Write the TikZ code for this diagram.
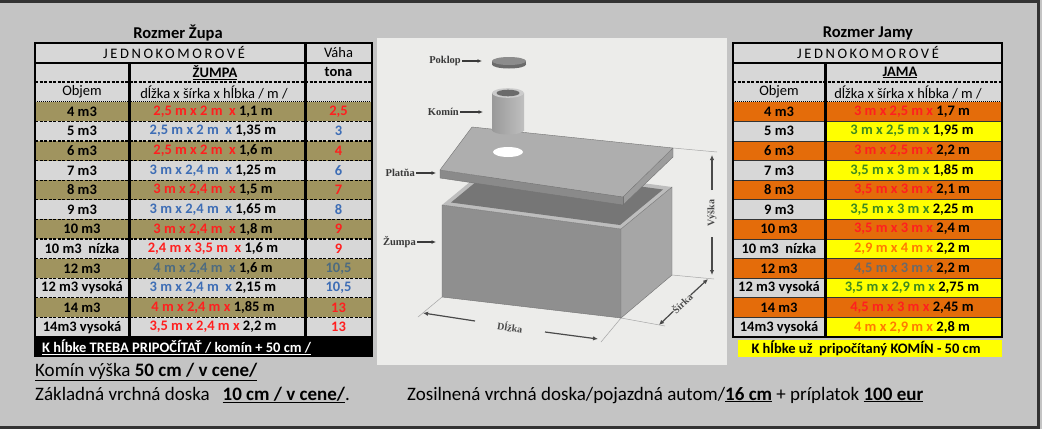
\documentclass[tikz,border=0pt]{standalone}
\usepackage{fontspec}
\setmainfont{Carlito}
\newfontfamily\imgfont{Liberation Serif}
\usetikzlibrary{arrows.meta}
\definecolor{bgpage}{HTML}{C4C4C4}
\definecolor{lightcell}{HTML}{D7D7D7}
\definecolor{gold}{HTML}{A0945F}
\definecolor{orng}{HTML}{E46C0A}
\definecolor{yel}{HTML}{FFFF00}
\definecolor{tred}{HTML}{FF1F1F}
\definecolor{tblue}{HTML}{3D6DB5}
\definecolor{tgblue}{HTML}{4D6B80}
\definecolor{tgreen}{HTML}{3E8A1F}
\definecolor{torange}{HTML}{FF7A00}
\definecolor{tgrey}{HTML}{6A6A6A}
\definecolor{imgbg}{HTML}{ECECEA}
\definecolor{framec}{HTML}{333333}
\definecolor{frontc}{HTML}{8F8F8F}
\definecolor{sidec}{HTML}{A6A6A6}
\definecolor{rimc}{HTML}{BDBDBD}
\definecolor{innerc}{HTML}{767676}
\definecolor{plfront}{HTML}{8A8A8A}
\definecolor{plside}{HTML}{9C9C9C}
\definecolor{pltop}{HTML}{AEAEAE}
\definecolor{lblc}{HTML}{3A3A3A}
\definecolor{dimc}{HTML}{4A4A4A}
\tikzset{
  cell/.style={font=\fontsize{14.5}{16}\selectfont\bfseries, inner sep=0pt},
  hcell/.style={font=\fontsize{14.5}{16}\selectfont, inner sep=0pt},
  spaced/.style={font=\fontsize{14.5}{16}\selectfont\addfontfeatures{LetterSpace=18}, inner sep=0pt},
  tabtitle/.style={font=\fontsize{16.5}{18}\selectfont\bfseries, inner sep=0pt},
  btext/.style={font=\fontsize{19}{22}\selectfont, inner sep=0pt},
  tblborder/.style={line width=2.5pt, black},
  colsep/.style={line width=3pt, black},
  hsolid/.style={line width=2pt, black},
  hdash/.style={line width=2pt, black, dash pattern=on 3pt off 1.5pt},
  hdot/.style={line width=1pt, black, dash pattern=on 1pt off 1pt},
  rowsep/.style={line width=1.2pt, black, dash pattern=on 3pt off 1.5pt},
  rowline/.style={line width=0.7pt, black!80},
  imglbl/.style={font=\imgfont\bfseries\fontsize{10.5}{12}\selectfont, text=lblc, inner sep=1pt},
  dimlbl/.style={font=\imgfont\bfseries\fontsize{10}{12}\selectfont, text=dimc, inner sep=0pt},
  imgarrow/.style={-{Latex[length=4.5pt,width=4pt]}, line width=1.3pt, lblc},
  dimarrow/.style={-{Latex[length=5pt,width=4.5pt]}, line width=1.2pt, dimc},
  extline/.style={line width=0.5pt, black!35},
}
\newcommand\LRow[7]{%
  \pgfmathsetmacro\ytop{101.8+(#1-1)*19.6}
  \fill[#2] (35,\ytop) rectangle (372,\ytop+19.6);
  \node[cell] (L#1a) at (82,\ytop+9.8) {#3};
  \node[cell] (L#1b) at (213,\ytop+9.8) {\textcolor{#4}{#5} #6};
  \node[cell,text=#4] (L#1c) at (338.5,\ytop+9.8) {#7};
}
\newcommand\RRow[7]{%
  \pgfmathsetmacro\ytop{101.8+(#1-1)*19.6}
  \fill[#2] (733,\ytop) rectangle (825,\ytop+19.6);
  \fill[#3] (825,\ytop) rectangle (1002,\ytop+19.6);
  \node[cell] (R#1a) at (779,\ytop+9.8) {#4};
  \node[cell] (R#1b) at (912,\ytop+9.8) {\textcolor{#5}{#6} #7};
}
\begin{document}
\begin{tikzpicture}[x=1pt,y=-1pt]
\useasboundingbox (0,0) rectangle (1042,429);
\fill[bgpage] (0,0) rectangle (1042,429);
\draw[line width=3pt, framec] (0,1.5) -- (1038.5,1.5) -- (1038.5,427.5) -- (0,427.5);

% ---------------- left table ----------------
\node[tabtitle] (ltitle) at (178,33) {Rozmer Župa};
\fill[lightcell] (35,43) rectangle (372,101.8);
\LRow{1}{gold}{4 m3}{tred}{2,5 m x 2 m\ \ x}{1,1 m}{2,5}
\LRow{2}{lightcell}{5 m3}{tblue}{2,5 m x 2 m\ \ x}{1,35 m}{3}
\LRow{3}{gold}{6 m3}{tred}{2,5 m x 2 m\ \ x}{1,6 m}{4}
\LRow{4}{lightcell}{7 m3}{tblue}{3 m x 2,4 m\ \ x}{1,25 m}{6}
\LRow{5}{gold}{8 m3}{tred}{3 m x 2,4 m\ \ x}{1,5 m}{7}
\LRow{6}{lightcell}{9 m3}{tblue}{3 m x 2,4 m\ \ x}{1,65 m}{8}
\LRow{7}{gold}{10 m3}{tred}{3 m x 2,4 m\ \ x}{1,8 m}{9}
\LRow{8}{lightcell}{10 m3\ \ nízka}{tred}{2,4 m x 3,5 m\ \ x}{1,6 m}{9}
\LRow{9}{gold}{12 m3}{tgblue}{4 m x 2,4 m\ \ x}{1,6 m}{10,5}
\LRow{10}{lightcell}{12 m3 vysoká}{tblue}{3 m x 2,4 m\ \ x}{2,15 m}{10,5}
\LRow{11}{gold}{14 m3}{tred}{4 m x 2,4 m x}{1,85 m}{13}
\LRow{12}{lightcell}{14m3 vysoká}{tred}{3,5 m x 2,4 m x}{2,2 m}{13}
\node[spaced] (lj) at (174,52.8) {JEDNOKOMOROVÉ};
\node[hcell] (lv) at (338.5,52.8) {Váha};
\node[cell] (lz) at (215,72.4) {\underline{ŽUMPA}};
\node[cell] (lt) at (338.5,72.4) {tona};
\node[hcell] (lo) at (82,92) {Objem};
\node[hcell] (ld) at (214,92) {dĺžka x šírka x hĺbka / m /};
\draw[hsolid] (35,62.6) -- (372,62.6);
\draw[hdash] (35,82.2) -- (372,82.2);
\draw[hdot] (35,101.8) -- (372,101.8);
\foreach \k in {1,...,11} \draw[rowsep] (35,101.8+\k*19.6) -- (372,101.8+\k*19.6);
\draw[colsep] (129,62.6) -- (129,337);
\draw[colsep] (305,43) -- (305,337);
\draw[tblborder] (35,43) rectangle (372,337);
\fill[black] (34,337) rectangle (373,357);
\node[cell, text=white, font=\fontsize{14.5}{16}\selectfont\bfseries, anchor=west] (lbar) at (42,347) {\underline{K hĺbke TREBA PRIPOČÍTAŤ / komín + 50 cm /}};

% ---------------- right table ----------------
\node[tabtitle] (rtitle) at (868,33) {Rozmer Jamy};
\fill[lightcell] (733,43) rectangle (1002,101.8);
\RRow{1}{orng}{orng}{4 m3}{tred}{3 m x 2,5 m x}{1,7 m}
\RRow{2}{lightcell}{yel}{5 m3}{tgreen}{3 m x 2,5 m x}{1,95 m}
\RRow{3}{orng}{orng}{6 m3}{tred}{3 m x 2,5 m x}{2,2 m}
\RRow{4}{lightcell}{yel}{7 m3}{tgreen}{3,5 m x 3 m x}{1,85 m}
\RRow{5}{orng}{orng}{8 m3}{tred}{3,5 m x 3 m x}{2,1 m}
\RRow{6}{lightcell}{yel}{9 m3}{tgreen}{3,5 m x 3 m x}{2,25 m}
\RRow{7}{orng}{orng}{10 m3}{tred}{3,5 m x 3 m x}{2,4 m}
\RRow{8}{lightcell}{yel}{10 m3\ \ nízka}{torange}{2,9 m x 4 m x}{2,2 m}
\RRow{9}{orng}{orng}{12 m3}{tgrey}{4,5 m x 3 m x}{2,2 m}
\RRow{10}{lightcell}{yel}{12 m3 vysoká}{tgreen}{3,5 m x 2,9 m x}{2,75 m}
\RRow{11}{orng}{orng}{14 m3}{tred}{4,5 m x 3 m x}{2,45 m}
\RRow{12}{lightcell}{yel}{14m3 vysoká}{torange}{4 m x 2,9 m x}{2,8 m}
\node[spaced] (rj) at (868,52.8) {JEDNOKOMOROVÉ};
\node[cell] (rja) at (900,72.4) {\underline{JAMA}};
\node[hcell] (ro) at (779,92) {Objem};
\node[hcell] (rd) at (908,92) {dĺžka x šírka x hĺbka / m /};
\draw[hsolid] (733,62.6) -- (1002,62.6);
\draw[hdash] (733,82.2) -- (1002,82.2);
\draw[hdot] (733,101.8) -- (1002,101.8);
\foreach \k in {1,...,11} \draw[rowline] (733,101.8+\k*19.6) -- (1002,101.8+\k*19.6);
\draw[colsep] (825,62.6) -- (825,337);
\draw[tblborder] (733,43) rectangle (1002,337);
\fill[yel] (738,339.5) rectangle (1002,357);
\node[cell, font=\fontsize{14.5}{16}\selectfont\bfseries] (rbar) at (866,348.5) {K hĺbke už\ \ pripočítaný KOMÍN - 50 cm};

% ---------------- picture ----------------
\fill[imgbg] (377,38) rectangle (727,365);
% extension lines
\draw[extline] (442,297) -- (418,317);
\draw[extline] (621,318) -- (601,342);
\draw[extline] (621,318) -- (665,326);
\draw[extline] (672,275) -- (714,279);
\draw[extline] (673,148) -- (717,152);
% box
\fill[frontc] (442,205) -- (621,229) -- (621,318) -- (442,297) -- cycle;
\fill[sidec] (621,229) -- (672,187) -- (672,275) -- (621,318) -- cycle;
\fill[rimc] (442,205) -- (621,229) -- (672,187) -- (493,163) -- cycle;
\fill[innerc] (451,202.5) -- (620,225) -- (663,189.5) -- (494,167) -- cycle;
\draw[line width=0.4pt, black!55] (442,205) -- (621,229) -- (621,318) -- (442,297) -- cycle;
\draw[line width=0.4pt, black!55] (621,229) -- (672,187) -- (672,275) -- (621,318);
% plate
\fill[plfront] (440,170) -- (623,197) -- (623,205) -- (440,178) -- cycle;
\fill[plside] (623,197) -- (673,148) -- (673,157) -- (623,205) -- cycle;
\fill[pltop] (472,127) -- (673,148) -- (623,197) -- (440,170) -- cycle;
\draw[line width=0.4pt, black!55] (472,127) -- (673,148) -- (673,157) -- (623,205) -- (440,178) -- (440,170) -- cycle;
\draw[line width=0.4pt, black!55] (440,170) -- (623,197) -- (673,148);
\draw[line width=0.4pt, black!55] (623,197) -- (623,205);
\fill[white] (508,152) ellipse [x radius=15pt, y radius=5pt];
% chimney
\shade[left color=black!40, right color=black!25] (492,93) rectangle (524,130);
\shade[left color=black!40, right color=black!25] (508,130) ellipse [x radius=16pt, y radius=4.5pt];
\fill[black!20] (508,93) ellipse [x radius=16pt, y radius=4.8pt];
\fill[black!58] (508,93) ellipse [x radius=11.5pt, y radius=3.3pt];
% cover
\fill[black!58] (509,64.5) ellipse [x radius=17pt, y radius=4pt];
\fill[black!58] (492,61) rectangle (526,64.5);
\fill[black!45] (509,61) ellipse [x radius=17pt, y radius=4pt];
% labels
\node[imglbl, anchor=east] (poklop) at (462,61) {Poklop};
\coordinate (poklopT) at (482,61);
\draw[imgarrow] (poklop) -- (poklopT);
\node[imglbl, anchor=east] (komin) at (460,112) {Komín};
\coordinate (kominT) at (483,112);
\draw[imgarrow] (komin) -- (kominT);
\node[imglbl, anchor=east] (platna) at (416,173) {Platňa};
\coordinate (platnaT) at (436,173);
\draw[imgarrow] (platna) -- (platnaT);
\node[imglbl, anchor=east] (zumpa) at (417,242) {Žumpa};
\coordinate (zumpaT) at (436,242);
\draw[imgarrow] (zumpa) -- (zumpaT);
% dimensions
\node[dimlbl, rotate=-8.5] (dlzka) at (510,327) {Dĺžka};
\coordinate (dl1) at (423,313);
\coordinate (dl2) at (598,339);
\draw[dimarrow] (475,321) -- (dl1);
\draw[dimarrow] (545,332) -- (dl2);
\node[dimlbl, rotate=43] (sirka) at (682,303) {Šírka};
\coordinate (sr1) at (659,325);
\coordinate (sr2) at (708,279);
\draw[dimarrow] (sirka) -- (sr1);
\draw[dimarrow] (sirka) -- (sr2);
\node[dimlbl, rotate=90] (vyska) at (712,213) {Výška};
\coordinate (vy1) at (712,155);
\coordinate (vy2) at (712,275);
\draw[dimarrow] (712,190) -- (vy1);
\draw[dimarrow] (712,237) -- (vy2);

% ---------------- bottom text ----------------
\node[btext, anchor=base west] (kominv) at (35,376) {\underline{Komín výška \textbf{50 cm / v cene/}}};
\node[btext, anchor=base west] (zakl) at (35,400) {Základná vrchná doska\ \ \ \underline{\textbf{10 cm / v cene/}}.};
\node[btext, anchor=base west] (zosil) at (407,400) {Zosilnená vrchná doska/pojazdná autom/\underline{\textbf{16 cm}} + príplatok \underline{\textbf{100 eur}}};
\end{tikzpicture}
\end{document}
